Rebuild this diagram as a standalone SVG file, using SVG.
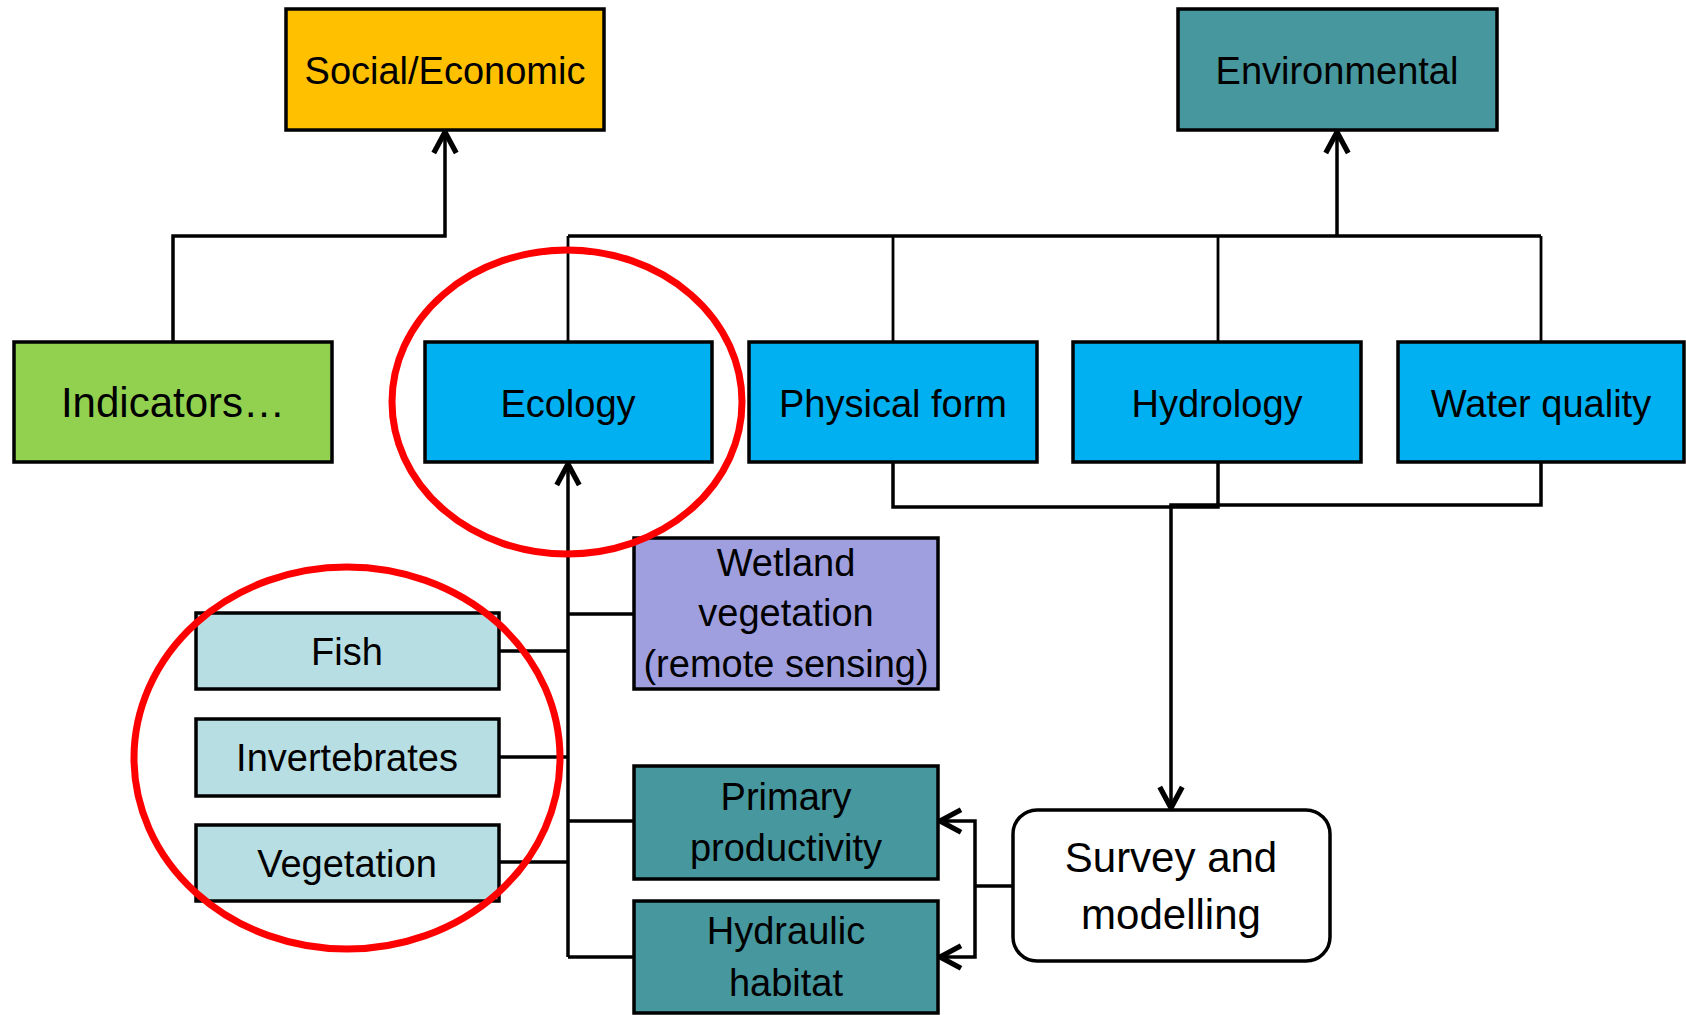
<svg xmlns="http://www.w3.org/2000/svg" width="1686" height="1015" viewBox="0 0 1686 1015">
<style>
.box{stroke:#000;stroke-width:3.5}
.t{font-family:"Liberation Sans",Arial,sans-serif;font-size:38px;fill:#000;text-anchor:middle}
.ln{fill:none;stroke:#000;stroke-width:3.5}
.thin{fill:none;stroke:#000;stroke-width:2.8}
.ring{fill:none;stroke:#FF0000;stroke-width:7}
</style>
<defs>
<marker id="arr" markerUnits="userSpaceOnUse" markerWidth="30" markerHeight="30" viewBox="-16 -10 20 20" refX="0" refY="0" orient="auto" overflow="visible">
<path d="M-14,-7.5 L0,0 L-14,7.5" fill="none" stroke="#000" stroke-width="3.5"/>
</marker>
</defs>
<rect width="1686" height="1015" fill="#fff"/>

<g id="connectors">
<path class="ln" d="M173,342 V236 H445 V132" marker-end="url(#arr)"/>
<path class="ln" d="M568,236 H1541"/>
<path class="thin" d="M568,236 V342 M893,236 V342 M1218,236 V342 M1541,236 V342"/>
<path class="ln" d="M1337,236 V132" marker-end="url(#arr)"/>
<path class="ln" d="M893,462 V507 H1218 V462"/>
<path class="ln" d="M1541,462 V505 H1171 V808" marker-end="url(#arr)"/>
<path class="ln" d="M568,957 V464" marker-end="url(#arr)"/>
<path class="ln" d="M568,614 H634 M499,651 H568 M499,757 H568 M499,862 H568 M568,821 H634 M568,957 H634"/>
<path class="ln" d="M1013,886 H975"/>
<path class="ln" d="M975,886 V821 H940" marker-end="url(#arr)"/>
<path class="ln" d="M975,886 V957 H940" marker-end="url(#arr)"/>
</g>

<g id="social-economic">
<rect class="box" x="286" y="9" width="318" height="121" fill="#FFC000"/>
<text class="t" x="445" y="84">Social/Economic</text>
</g>
<g id="environmental">
<rect class="box" x="1178" y="9" width="319" height="121" fill="#47979E"/>
<text class="t" x="1337" y="84">Environmental</text>
</g>
<g id="indicators">
<rect class="box" x="14" y="342" width="318" height="120" fill="#92D050"/>
<text class="t" x="173" y="417" style="font-size:42px">Indicators…</text>
</g>
<g id="ecology">
<rect class="box" x="425" y="342" width="287" height="120" fill="#00B0F0"/>
<text class="t" x="568" y="417">Ecology</text>
</g>
<g id="physical-form">
<rect class="box" x="749" y="342" width="288" height="120" fill="#00B0F0"/>
<text class="t" x="893" y="417">Physical form</text>
</g>
<g id="hydrology">
<rect class="box" x="1073" y="342" width="288" height="120" fill="#00B0F0"/>
<text class="t" x="1217" y="417">Hydrology</text>
</g>
<g id="water-quality">
<rect class="box" x="1398" y="342" width="286" height="120" fill="#00B0F0"/>
<text class="t" x="1541" y="417">Water quality</text>
</g>
<g id="wetland-vegetation">
<rect class="box" x="634" y="538" width="304" height="151" fill="#9F9FDF"/>
<text class="t" x="786" y="576">Wetland</text>
<text class="t" x="786" y="626">vegetation</text>
<text class="t" x="786" y="677">(remote sensing)</text>
</g>
<g id="fish">
<rect class="box" x="196" y="613" width="303" height="76" fill="#B7DEE3"/>
<text class="t" x="347" y="665">Fish</text>
</g>
<g id="invertebrates">
<rect class="box" x="196" y="719" width="303" height="77" fill="#B7DEE3"/>
<text class="t" x="347" y="771">Invertebrates</text>
</g>
<g id="vegetation">
<rect class="box" x="196" y="825" width="303" height="76" fill="#B7DEE3"/>
<text class="t" x="347" y="877">Vegetation</text>
</g>
<g id="primary-productivity">
<rect class="box" x="634" y="766" width="304" height="113" fill="#47979E"/>
<text class="t" x="786" y="810">Primary</text>
<text class="t" x="786" y="861">productivity</text>
</g>
<g id="hydraulic-habitat">
<rect class="box" x="634" y="901" width="304" height="112" fill="#47979E"/>
<text class="t" x="786" y="944">Hydraulic</text>
<text class="t" x="786" y="996">habitat</text>
</g>
<g id="survey-modelling">
<rect class="box" x="1013" y="810" width="317" height="151" rx="24" ry="24" fill="#fff"/>
<text class="t" x="1171" y="872" style="font-size:42px">Survey and</text>
<text class="t" x="1171" y="929" style="font-size:42px">modelling</text>
</g>

<g id="highlights">
<ellipse class="ring" cx="567" cy="402" rx="175" ry="152"/>
<ellipse class="ring" cx="347" cy="758" rx="213" ry="191"/>
</g>
</svg>
